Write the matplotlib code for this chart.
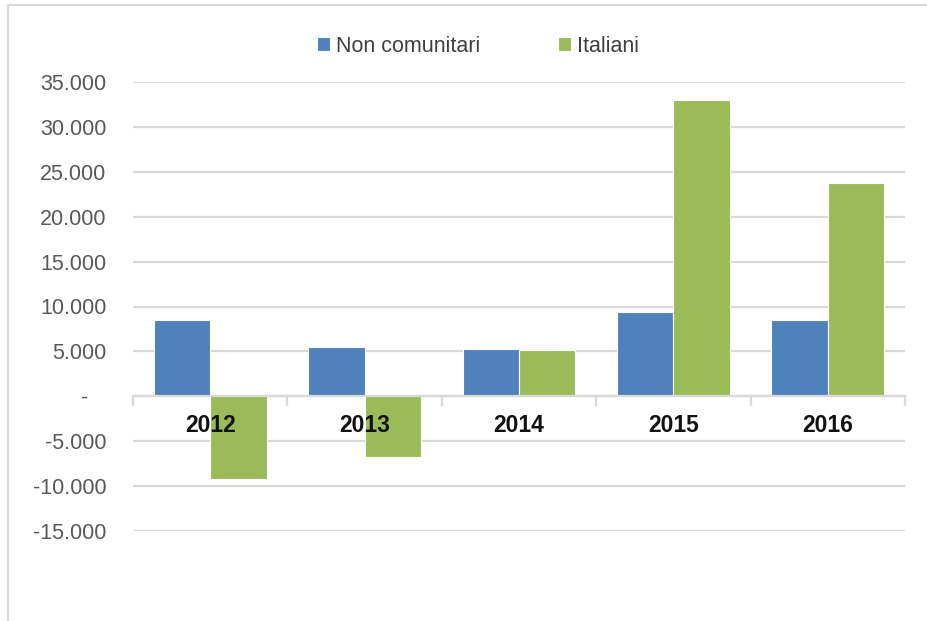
import matplotlib
matplotlib.use('Agg')
import matplotlib.pyplot as plt
from matplotlib.ticker import FuncFormatter, FixedLocator
from matplotlib.lines import Line2D
import numpy as np

years = ['2012', '2013', '2014', '2015', '2016']
non_comunitari = [8450, 5500, 5300, 9400, 8450]
italiani = [-9200, -6800, 5150, 33000, 23700]

blue = '#4F81BD'
green = '#9BBB59'
grid_col = '#D9D9D9'

plt.rcParams['font.family'] = ['Liberation Sans', 'DejaVu Sans']

fig = plt.figure(figsize=(9.28, 6.21), dpi=100)
ax = fig.add_axes([133/928, 1-531/621, (905-133)/928, (531-82)/621])

x = np.arange(len(years))
w = 0.365
ax.bar(x - w/2, non_comunitari, w, color=blue, edgecolor='white', linewidth=0.8,
       label='Non comunitari', zorder=2)
ax.bar(x + w/2, italiani, w, color=green, edgecolor='white', linewidth=0.8,
       label='Italiani', zorder=2)

ax.set_xlim(-0.5, len(years) - 0.5)
ax.set_ylim(-15000, 35000)
ax.set_yticks(np.arange(-15000, 35001, 5000))

def fmt(v, pos):
    if v == 0:
        return '-   '
    return f'{v:,.0f}'.replace(',', '.')

ax.yaxis.set_major_formatter(FuncFormatter(fmt))
ax.tick_params(axis='y', length=0, pad=19, labelsize=15.5, labelcolor='#595959')
ax.yaxis.grid(True, color=grid_col, linewidth=1.6)
ax.set_axisbelow(True)

for s in ['top', 'left', 'right']:
    ax.spines[s].set_visible(False)
ax.spines['bottom'].set_position(('data', 0))
ax.spines['bottom'].set_color(grid_col)
ax.spines['bottom'].set_linewidth(1.6)
ax.spines['bottom'].set_zorder(3)

# boundaries as major ticks, labels on minor ticks at centres
ax.xaxis.set_major_locator(FixedLocator(np.arange(-0.5, len(years), 1.0)))
ax.xaxis.set_major_formatter(FuncFormatter(lambda v, p: ''))
ax.xaxis.set_minor_locator(FixedLocator(x))
ax.set_xticklabels(years, minor=True)
ax.tick_params(axis='x', which='major', direction='out', length=7, width=1.6, color=grid_col)
ax.tick_params(axis='x', which='minor', length=0, pad=13)
for lab in ax.get_xticklabels(minor=True):
    lab.set_fontfamily(['Liberation Sans Narrow', 'Liberation Sans', 'DejaVu Sans'])
    lab.set_fontweight('bold')
    lab.set_fontsize(16.5)
    lab.set_color('#111111')
ax.xaxis.set_zorder(4)

fig.legend(loc='center', bbox_to_anchor=(0.515, 1-46/621), ncol=2, frameon=False,
           fontsize=15.5, handlelength=0.6, handleheight=0.6, handletextpad=0.3,
           columnspacing=3.6, labelcolor='#404040')

# chart frame
fig.add_artist(Line2D([8/928, 8/928], [0, 1-5/621], color=grid_col, linewidth=1.5))
fig.add_artist(Line2D([8/928, 1], [1-5/621, 1-5/621], color=grid_col, linewidth=1.5))

fig.savefig('out.png', dpi=100)
